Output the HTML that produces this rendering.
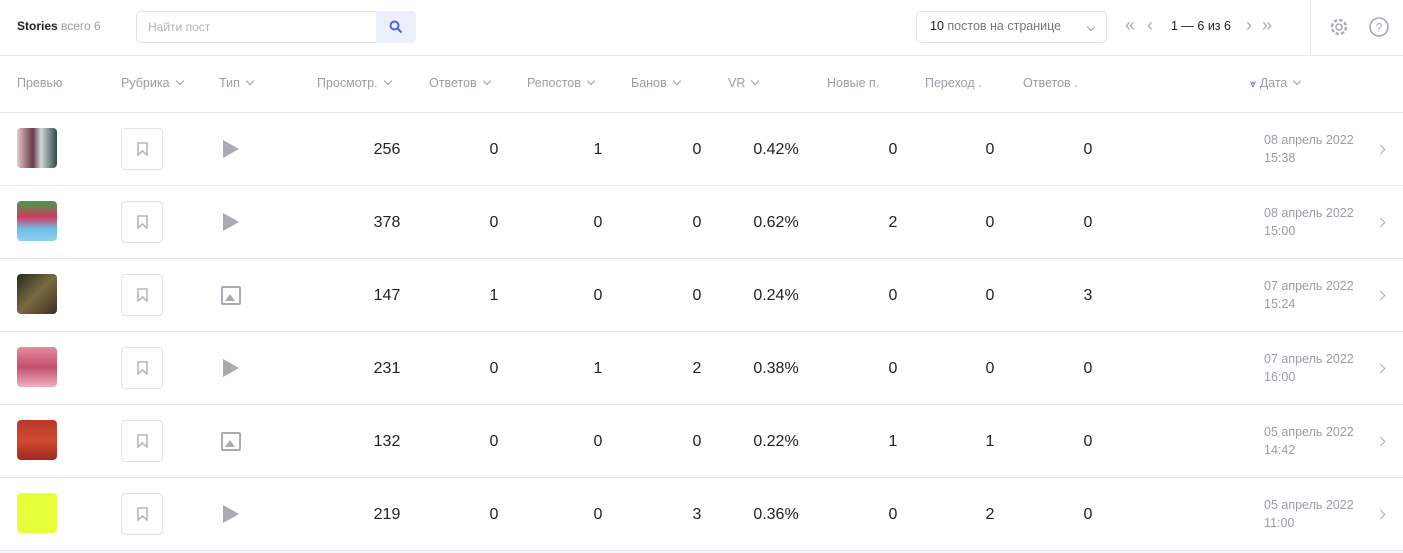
<!DOCTYPE html>
<html><head><meta charset="utf-8"><style>
*{box-sizing:border-box;margin:0;padding:0}
body{width:1403px;height:553px;background:#f4f5f7;font-family:"Liberation Sans",sans-serif;position:relative;overflow:hidden}
.wrap{position:absolute;left:0;top:0;width:1403px;height:550px;background:#fff}
.a{position:absolute;white-space:nowrap}
.hline{position:absolute;left:0;width:1403px;height:1px;background:#e6e7ec}
.h{font-size:12.5px;color:#9a9ca6;top:76px}
.ch{display:inline-block;width:6px;height:6px;border-right:1.5px solid #9a9ca6;border-bottom:1.5px solid #9a9ca6;transform:rotate(45deg);margin-left:7px;position:relative;top:-3px}
.n{font-size:16px;color:#222;width:60px;text-align:center}
.d{font-size:12.5px;color:#9a9ca6;line-height:18px}
.bm{position:absolute;left:121px;width:42px;height:42px;border:1px solid #e2e3e8;border-radius:4px}
.play{position:absolute;left:223px;width:0;height:0;border-left:16px solid #a9abb4;border-top:9px solid transparent;border-bottom:9px solid transparent}
.img{position:absolute;left:221px;width:20px;height:19px;border:2px solid #a9abb4;border-radius:2px}
.img:after{content:"";position:absolute;left:2px;bottom:2px;border-left:5px solid transparent;border-right:5px solid transparent;border-bottom:7px solid #a9abb4}
.th{position:absolute;left:17px;width:40px;height:40px;border-radius:4px}
.arr{position:absolute;left:1377px;width:7px;height:7px;border-right:1.5px solid #a9abb4;border-top:1.5px solid #a9abb4;transform:rotate(45deg)}
.pg{font-size:18px;color:#a9abb4;top:15px}
</style></head><body><div class="wrap">
<div class="a" style="left:17px;top:19px;font-size:12px;font-weight:bold;color:#222">Stories <span style="font-weight:normal;color:#9a9ca6">всего 6</span></div>
<div class="a" style="left:136px;top:11px;width:280px;height:32px;border:1px solid #e2e3e8;border-radius:5px;background:#fff"></div>
<div class="a" style="left:148px;top:20px;font-size:12px;color:#b0b2ba">Найти пост</div>
<div class="a" style="left:376px;top:11px;width:40px;height:32px;background:#eceffd;border-radius:0 5px 5px 0"></div>
<svg class="a" style="left:389px;top:20px" width="14" height="14"><circle cx="5.5" cy="5.5" r="4" fill="none" stroke="#4a63e7" stroke-width="2"/><line x1="8.5" y1="8.5" x2="12.5" y2="12.5" stroke="#4a63e7" stroke-width="2"/></svg>
<div class="a" style="left:916px;top:11px;width:191px;height:32px;border:1px solid #e2e3e8;border-radius:5px"></div>
<div class="a" style="left:930px;top:19px;font-size:12.5px;color:#222">10 <span style="color:#777">постов на странице</span></div>
<div class="a" style="left:1081px;top:20px"><span class="ch"></span></div>
<div class="a pg" style="left:1125px">«</div>
<div class="a pg" style="left:1147px">‹</div>
<div class="a" style="left:1171px;top:19px;font-size:12.5px;color:#222">1 — 6 из 6</div>
<div class="a pg" style="left:1246px">›</div>
<div class="a pg" style="left:1262px">»</div>
<div class="a" style="left:1310px;top:0;width:1px;height:55px;background:#e6e7ec"></div>
<svg class="a" style="left:1328px;top:16px" width="22" height="22"><circle cx="11" cy="11" r="7" fill="none" stroke="#a9abb4" stroke-width="2.4" stroke-dasharray="3.5 2"/><circle cx="11" cy="11" r="3" fill="none" stroke="#a9abb4" stroke-width="1.6"/></svg>
<svg class="a" style="left:1368px;top:16px" width="22" height="22"><circle cx="11" cy="11" r="9" fill="none" stroke="#a9abb4" stroke-width="1.6"/><text x="11" y="15.5" text-anchor="middle" font-size="12" font-family="Liberation Sans" fill="#a9abb4">?</text></svg>
<div class="hline" style="top:55px"></div>
<div class="a h" style="left:17px">Превью</div>
<div class="a h" style="left:121px">Рубрика<span class="ch"></span></div>
<div class="a h" style="left:219px">Тип<span class="ch"></span></div>
<div class="a h" style="left:317px">Просмотр.<span class="ch"></span></div>
<div class="a h" style="left:429px">Ответов<span class="ch"></span></div>
<div class="a h" style="left:527px">Репостов<span class="ch"></span></div>
<div class="a h" style="left:631px">Банов<span class="ch"></span></div>
<div class="a h" style="left:728px">VR<span class="ch"></span></div>
<div class="a h" style="left:827px">Новые п.</div>
<div class="a h" style="left:925px">Переход .</div>
<div class="a h" style="left:1023px">Ответов .</div>
<div class="a h" style="left:1250px"><span style="color:#4a63e7;font-size:11px">⩔</span> Дата<span class="ch"></span></div>
<div class="hline" style="top:112px"></div>
<div id="rows"></div>
<script>
var R=[["256","0","1","0","0.42%","0","0","0","08 апрель 2022","15:38","linear-gradient(90deg,#e8c8c8,#6a3a4a 40%,#cfd8d8 60%,#2f4a48)","v"],
["378","0","0","0","0.62%","2","0","0","08 апрель 2022","15:00","linear-gradient(180deg,#3fa04a,#d03a60 40%,#6cc0e8 70%,#8fd0f0)","v"],
["147","1","0","0","0.24%","0","0","3","07 апрель 2022","15:24","linear-gradient(135deg,#2a2a20,#7a6a40 50%,#3a3020)","i"],
["231","0","1","2","0.38%","0","0","0","07 апрель 2022","16:00","linear-gradient(180deg,#e88aa0,#c0506a 50%,#f0b0c0)","v"],
["132","0","0","0","0.22%","1","1","0","05 апрель 2022","14:42","linear-gradient(180deg,#b83828,#d04a30 50%,#a02a20)","i"],
["219","0","0","3","0.36%","0","2","0","05 апрель 2022","11:00","#e6ff3a","v"]];
var C=[357,464,568,667,746,863,960,1058],h="";
R.forEach(function(r,i){var t=113+i*73;
h+='<div class="th" style="top:'+(t+15)+'px;background:'+r[10]+'"></div>';
h+='<div class="bm" style="top:'+(t+15)+'px"><svg style="position:absolute;left:15px;top:13px" width="11" height="14"><path d="M1 1H10V13L5.5 9L1 13Z" fill="none" stroke="#b5b7bf" stroke-width="1.6"/></svg></div>';
h+=r[11]=="v"?'<div class="play" style="top:'+(t+27)+'px"></div>':'<div class="img" style="top:'+(t+27)+'px"></div>';
for(var k=0;k<8;k++)h+='<div class="a n" style="left:'+C[k]+'px;top:'+(t+28)+'px">'+r[k]+'</div>';
h+='<div class="a d" style="left:1264px;top:'+(t+18)+'px">'+r[8]+'<br>'+r[9]+'</div>';
h+='<div class="arr" style="top:'+(t+33)+'px"></div>';
h+='<div class="hline" style="top:'+(t+72)+'px"></div>';});
document.getElementById("rows").innerHTML=h;
</script>
</div></body></html>
